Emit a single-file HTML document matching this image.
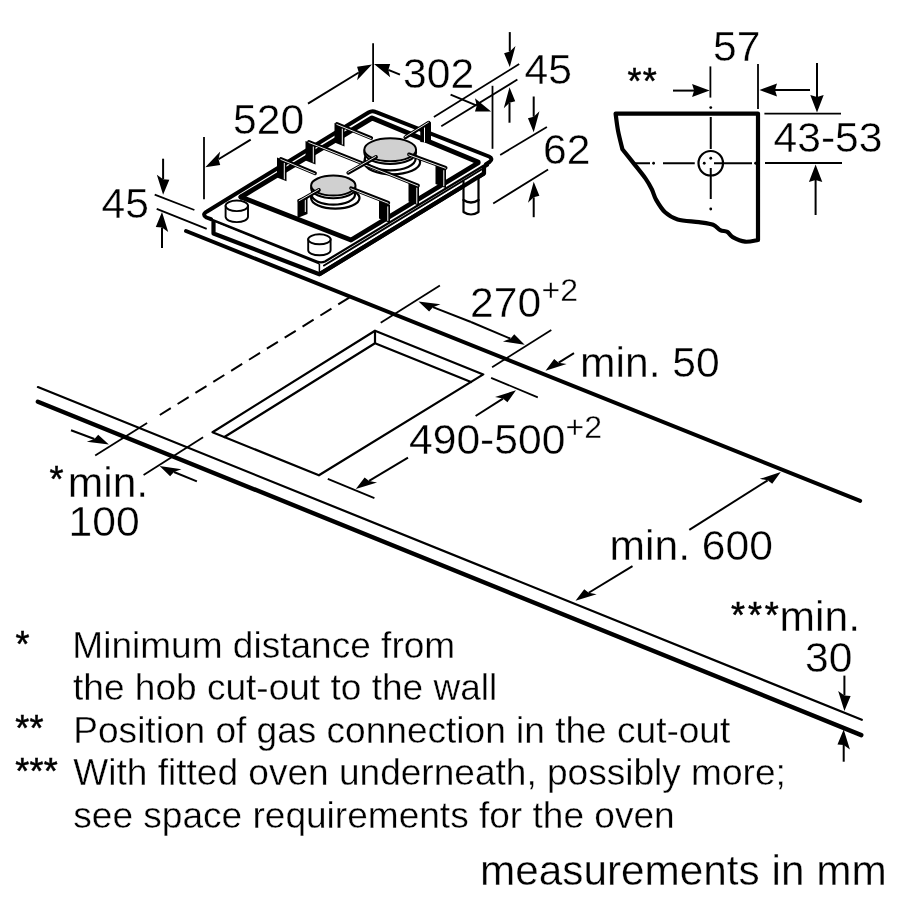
<!DOCTYPE html>
<html><head><meta charset="utf-8"><style>
html,body{margin:0;padding:0;background:#fff;width:900px;height:900px;overflow:hidden}
svg{display:block;will-change:transform}
text{font-family:"Liberation Sans",sans-serif;fill:#000;stroke:#fff;stroke-width:0.35px}
text.st{stroke:#000;stroke-width:0.5px}
</style></head><body>
<svg width="900" height="900" viewBox="0 0 900 900">
<line x1="37.9" y1="387.1" x2="861.8" y2="719.8" stroke="#000" stroke-width="2.2" stroke-linecap="round"/>
<line x1="37.9" y1="401.7" x2="861.3" y2="735.1" stroke="#000" stroke-width="4.4" stroke-linecap="round"/>
<line x1="186" y1="231" x2="860.2" y2="500.9" stroke="#000" stroke-width="3.9" stroke-linecap="round"/>
<line x1="349.3" y1="297.6" x2="159.8" y2="415" stroke="#000" stroke-width="2" stroke-dasharray="13,8"/>
<path d="M212.5,432.2 L375,330.7 L483.3,374.4 L318.9,475.3 Z" stroke="#000" stroke-width="2.2" fill="none" stroke-linejoin="round" stroke-linecap="round" />
<path d="M224.4,437 L375,343.3 L471,382" stroke="#000" stroke-width="2.2" fill="none" stroke-linejoin="round" stroke-linecap="round" />
<line x1="375" y1="330.7" x2="375" y2="343.3" stroke="#000" stroke-width="2.2" stroke-linecap="butt"/>
<line x1="95.2" y1="455.5" x2="147.1" y2="423.1" stroke="#000" stroke-width="1.8" stroke-linecap="butt"/>
<line x1="143.6" y1="475" x2="203.1" y2="437.3" stroke="#000" stroke-width="1.8" stroke-linecap="butt"/>
<line x1="71" y1="430.2" x2="94.39" y2="438.96" stroke="#000" stroke-width="2" stroke-linecap="butt"/>
<polygon points="108.9,444.4 98.2,434.71 94.39,438.96 86.83,441.81" fill="#000"/>
<line x1="196.9" y1="481.4" x2="173.94" y2="471.98" stroke="#000" stroke-width="2" stroke-linecap="butt"/>
<polygon points="159.6,466.1 181.45,469.16 173.94,471.98 170.13,476.33" fill="#000"/>
<line x1="380.7" y1="322.8" x2="439.9" y2="285.5" stroke="#000" stroke-width="1.8" stroke-linecap="butt"/>
<line x1="492.1" y1="367.3" x2="551.3" y2="330" stroke="#000" stroke-width="1.8" stroke-linecap="butt"/>
<line x1="471" y1="322" x2="432.94" y2="307.14" stroke="#000" stroke-width="2" stroke-linecap="butt"/>
<polygon points="418.5,301.5 440.47,304.29 432.94,307.14 429.13,311.44" fill="#000"/>
<line x1="471" y1="322" x2="510.42" y2="338.66" stroke="#000" stroke-width="2" stroke-linecap="butt"/>
<polygon points="524.7,344.7 514.25,334.31 510.42,338.66 502.91,341.46" fill="#000"/>
<line x1="574" y1="353.2" x2="558.69" y2="362.66" stroke="#000" stroke-width="2" stroke-linecap="butt"/>
<polygon points="545.5,370.8 566.61,364.09 558.69,362.66 554.17,359.12" fill="#000"/>
<line x1="491.1" y1="377.8" x2="537.8" y2="397.4" stroke="#000" stroke-width="1.8" stroke-linecap="butt"/>
<line x1="327.8" y1="478.9" x2="374.4" y2="498.2" stroke="#000" stroke-width="1.8" stroke-linecap="butt"/>
<line x1="475.6" y1="416" x2="502.94" y2="398.54" stroke="#000" stroke-width="2" stroke-linecap="butt"/>
<polygon points="516,390.2 507.45,402.16 502.94,398.54 495.05,397.08" fill="#000"/>
<line x1="408" y1="457.7" x2="369.1" y2="480.95" stroke="#000" stroke-width="2" stroke-linecap="butt"/>
<polygon points="355.8,488.9 377.02,482.46 369.1,480.95 364.62,477.38" fill="#000"/>
<line x1="689.3" y1="529.9" x2="767.7" y2="480.29" stroke="#000" stroke-width="2" stroke-linecap="butt"/>
<polygon points="780.8,472 772.23,483.85 767.7,480.29 759.79,478.87" fill="#000"/>
<line x1="632.5" y1="566.1" x2="588.74" y2="592.74" stroke="#000" stroke-width="2" stroke-linecap="butt"/>
<polygon points="575.5,600.8 596.67,594.19 588.74,592.74 584.23,589.21" fill="#000"/>
<line x1="844.4" y1="675.6" x2="844.4" y2="695.5" stroke="#000" stroke-width="2" stroke-linecap="butt"/>
<polygon points="844.4,711 850.62,695.99 844.4,695.5 838.18,691.01" fill="#000"/>
<line x1="843.7" y1="761.7" x2="843.7" y2="745" stroke="#000" stroke-width="2" stroke-linecap="butt"/>
<polygon points="843.7,729.5 849.92,749.49 843.7,745 837.48,744.51" fill="#000"/>
<line x1="154.7" y1="194.7" x2="194.4" y2="210" stroke="#000" stroke-width="1.8" stroke-linecap="butt"/>
<line x1="156.7" y1="208.9" x2="206.7" y2="228.9" stroke="#000" stroke-width="1.8" stroke-linecap="butt"/>
<line x1="163.1" y1="158.7" x2="163.1" y2="179.2" stroke="#000" stroke-width="2" stroke-linecap="butt"/>
<polygon points="163.1,194.7 169.34,179.63 163.1,179.2 156.86,174.77" fill="#000"/>
<line x1="162" y1="248" x2="162" y2="227.5" stroke="#000" stroke-width="2" stroke-linecap="butt"/>
<polygon points="162,212 168.22,231.99 162,227.5 155.78,227.01" fill="#000"/>
<line x1="204" y1="136.9" x2="204" y2="199.3" stroke="#000" stroke-width="1.8" stroke-linecap="butt"/>
<line x1="373.1" y1="43.3" x2="373.1" y2="102" stroke="#000" stroke-width="1.8" stroke-linecap="butt"/>
<line x1="250.7" y1="139.6" x2="218.53" y2="159.23" stroke="#000" stroke-width="2" stroke-linecap="butt"/>
<polygon points="205.3,167.3 220.24,164.89 218.53,159.23 220.24,151.49" fill="#000"/>
<line x1="308" y1="103.6" x2="358.78" y2="72.5" stroke="#000" stroke-width="2" stroke-linecap="butt"/>
<polygon points="372,64.4 357.08,80.24 358.78,72.5 357.08,66.84" fill="#000"/>
<line x1="400" y1="74.7" x2="388.33" y2="69.9" stroke="#000" stroke-width="2" stroke-linecap="butt"/>
<polygon points="374,64 390.18,77.36 388.33,69.9 390.18,63.96" fill="#000"/>
<line x1="492.5" y1="85.8" x2="492.5" y2="148.8" stroke="#000" stroke-width="1.8" stroke-linecap="butt"/>
<line x1="450.6" y1="94.7" x2="476.8" y2="105.63" stroke="#000" stroke-width="2" stroke-linecap="butt"/>
<polygon points="491.1,111.6 474.95,111.56 476.8,105.63 474.95,98.16" fill="#000"/>
<line x1="433.9" y1="116.9" x2="519.2" y2="64.1" stroke="#000" stroke-width="1.8" stroke-linecap="butt"/>
<line x1="441.3" y1="126.3" x2="517.4" y2="79.6" stroke="#000" stroke-width="1.8" stroke-linecap="butt"/>
<line x1="509.8" y1="32.1" x2="509.8" y2="51.6" stroke="#000" stroke-width="2" stroke-linecap="butt"/>
<polygon points="509.8,67.1 515.5,46.07 509.8,51.6 504.1,53.13" fill="#000"/>
<line x1="509.5" y1="122.7" x2="509.5" y2="102.7" stroke="#000" stroke-width="2" stroke-linecap="butt"/>
<polygon points="509.5,87.2 515.21,101.19 509.5,102.7 503.79,108.21" fill="#000"/>
<line x1="500.2" y1="155" x2="546.9" y2="126.9" stroke="#000" stroke-width="1.8" stroke-linecap="butt"/>
<line x1="493.2" y1="203.5" x2="548.1" y2="169.6" stroke="#000" stroke-width="1.8" stroke-linecap="butt"/>
<line x1="533.7" y1="96.5" x2="533.7" y2="116.8" stroke="#000" stroke-width="2" stroke-linecap="butt"/>
<polygon points="533.7,132.3 539.45,111.35 533.7,116.8 527.95,118.25" fill="#000"/>
<line x1="533.7" y1="217.2" x2="533.7" y2="197.3" stroke="#000" stroke-width="2" stroke-linecap="butt"/>
<polygon points="533.7,181.8 539.4,195.78 533.7,197.3 528,202.82" fill="#000"/>
<path d="M758,240 L758,113.6 L615.6,113.6 C616.00,116.43 616.87,124.67 618.00,130.60 C619.13,136.53 621.67,146.10 622.40,149.20 C624.18,151.43 629.23,157.70 633.10,162.60 C636.97,167.50 642.48,174.17 645.60,178.60 C648.72,183.03 650.03,185.65 651.80,189.20 C653.57,192.75 653.98,196.05 656.20,199.90 C658.42,203.75 661.53,209.05 665.10,212.30 C668.67,215.55 671.97,217.77 677.60,219.40 C683.23,221.03 692.98,221.20 698.90,222.10 C704.82,223.00 709.55,223.47 713.10,224.80 C716.65,226.13 717.83,228.92 720.20,230.10 C722.57,231.28 725.22,230.72 727.30,231.90 C729.38,233.08 729.73,235.57 732.70,237.20 C735.67,238.83 740.88,241.23 745.10,241.70 C749.32,242.17 755.85,240.28 758.00,240.00" stroke="#000" stroke-width="4.2" fill="none" stroke-linejoin="round" stroke-linecap="round" />
<circle cx="710.75" cy="163.25" r="12.25" stroke="#000" stroke-width="2.2" fill="none"/>
<line x1="635" y1="163.25" x2="650" y2="163.25" stroke="#000" stroke-width="2" stroke-linecap="butt"/>
<line x1="663" y1="163.25" x2="694.75" y2="163.25" stroke="#000" stroke-width="2" stroke-linecap="butt"/>
<line x1="714" y1="163.25" x2="752" y2="163.25" stroke="#000" stroke-width="2" stroke-linecap="butt"/>
<line x1="710.75" y1="117" x2="710.75" y2="149" stroke="#000" stroke-width="2" stroke-linecap="butt"/>
<line x1="710.75" y1="168" x2="710.75" y2="199" stroke="#000" stroke-width="2" stroke-linecap="butt"/>
<circle cx="653.6" cy="163.25" r="1.4" fill="#000"/>
<circle cx="704.25" cy="163.25" r="1.4" fill="#000"/>
<circle cx="710.75" cy="158.25" r="1.4" fill="#000"/>
<circle cx="710.75" cy="107.6" r="1.4" fill="#000"/>
<circle cx="710.75" cy="209" r="1.4" fill="#000"/>
<circle cx="755.6" cy="163.25" r="1.4" fill="#000"/>
<line x1="710.4" y1="66.4" x2="710.4" y2="97.6" stroke="#000" stroke-width="1.8" stroke-linecap="butt"/>
<line x1="758" y1="64" x2="758" y2="109" stroke="#000" stroke-width="1.8" stroke-linecap="butt"/>
<line x1="673" y1="90.6" x2="694.1" y2="90.6" stroke="#000" stroke-width="2" stroke-linecap="butt"/>
<polygon points="709.6,90.6 692.1,97.1 694.1,90.6 692.1,84.1" fill="#000"/>
<line x1="810" y1="90" x2="775" y2="90" stroke="#000" stroke-width="2" stroke-linecap="butt"/>
<polygon points="759.5,90 777,96.5 775,90 777,83.5" fill="#000"/>
<line x1="764.4" y1="113.6" x2="841" y2="113.6" stroke="#000" stroke-width="1.8" stroke-linecap="butt"/>
<line x1="765" y1="163" x2="842" y2="163" stroke="#000" stroke-width="1.8" stroke-linecap="butt"/>
<line x1="817" y1="63" x2="817" y2="97" stroke="#000" stroke-width="2" stroke-linecap="butt"/>
<polygon points="817,112.5 823.7,95 817,97 810.3,95" fill="#000"/>
<line x1="815.6" y1="215" x2="815.6" y2="180" stroke="#000" stroke-width="2" stroke-linecap="butt"/>
<polygon points="815.6,164.5 822.3,182 815.6,180 808.9,182" fill="#000"/>
<text x="72.3" y="658.2" font-size="37.05" >Minimum distance from</text>
<text x="73" y="700" font-size="37.05" >the hob cut-out to the wall</text>
<text x="73.3" y="743" font-size="37.05" >Position of gas connection in the cut-out</text>
<text x="73.3" y="784.6" font-size="37.05" >With fitted oven underneath, possibly more;</text>
<text x="73.3" y="828" font-size="37.05" >see space requirements for the oven</text>
<text x="15.6" y="656.5" font-size="36" class="st">*</text>
<text x="15.2" y="741.3" font-size="36" class="st" letter-spacing="0.3">**</text>
<text x="15.2" y="783.5" font-size="36" class="st" letter-spacing="0.3">***</text>
<text x="480" y="884.7" font-size="42.3" >measurements in mm</text>
<text x="609.5" y="560" font-size="42.6" >min. 600</text>
<text x="580" y="376.5" font-size="42.6" >min. 50</text>
<text x="409" y="453.5" font-size="42.6" >490-500</text>
<text x="470" y="317" font-size="42.6" >270</text>
<text x="773.5" y="152" font-size="42.6" >43-53</text>
<text x="713" y="61" font-size="42.6" >57</text>
<text x="403" y="88" font-size="42.6" >302</text>
<text x="233" y="133.5" font-size="42.6" >520</text>
<text x="101.5" y="217.5" font-size="42.6" >45</text>
<text x="524.5" y="83.5" font-size="42.6" >45</text>
<text x="543" y="163.5" font-size="42.6" >62</text>
<text x="67.7" y="497" font-size="42.6" >min.</text>
<text x="68.5" y="536.3" font-size="42.6" >100</text>
<text x="731" y="628.2" font-size="36" class="st" letter-spacing="2.9">***</text>
<text x="779.5" y="631.3" font-size="42.6" >min.</text>
<text x="805" y="672" font-size="42.6" >30</text>
<text x="541.5" y="301" font-size="32" >+2</text>
<text x="565.5" y="438" font-size="32" >+2</text>
<text x="49.5" y="491.7" font-size="36" class="st">*</text>
<text x="627.5" y="93.7" font-size="36" class="st" letter-spacing="1.3">**</text>
<path d="M213.5,221 L213.5,233.5 L319.4,274.3 L484,173.5 L484,166" stroke="#000" stroke-width="4.2" fill="none" stroke-linejoin="round" stroke-linecap="round" stroke-linejoin="miter"/>
<line x1="319.4" y1="264" x2="319.4" y2="274.3" stroke="#000" stroke-width="1.5" stroke-linecap="butt"/>
<line x1="206.7" y1="217.9" x2="319.4" y2="263.6" stroke="#000" stroke-width="2" stroke-linecap="butt"/>
<path d="M324,265.5 L488,165.5" stroke="#000" stroke-width="2" fill="none" stroke-linejoin="round" stroke-linecap="round" />
<path d="M463.5,181 L463.5,212 Q471,217 478.5,212 L478.5,178" stroke="#000" stroke-width="2.2" fill="#fff" stroke-linejoin="round" stroke-linecap="round" />
<path d="M463.5,200 Q471,205 478.5,200" stroke="#000" stroke-width="2.4" fill="none" stroke-linejoin="round" stroke-linecap="round" />
<line x1="319.4" y1="274.3" x2="484" y2="173.5" stroke="#000" stroke-width="4.2" stroke-linecap="butt"/>
<path d="M207,211.5 L368.5,112.5 Q372,110.3 375.5,111.8 L489,156.5 Q493.5,158.8 489.5,162 L325,261.5 Q321,263.3 317,261.5 L206.5,217.5 Q201.5,214.5 207,211.5 Z" fill="#fff"/>
<path d="M211,219.2 L206.5,217.5 Q201.5,214.5 207,211.5 L368.5,112.5 Q372,110.3 375.5,111.8 L489,156.5 Q493.5,158.8 489.5,162 L486,164.2" stroke="#000" stroke-width="4.0" fill="none" stroke-linejoin="round" stroke-linecap="round" />
<path d="M486,164.2 L325,261.5 Q321,263.3 317,261.5 L211,219.2" stroke="#000" stroke-width="2.2" fill="none" stroke-linejoin="round" stroke-linecap="round" />
<path d="M241,197 L372,118 L478,162" stroke="#000" stroke-width="5" fill="none" stroke-linejoin="round" stroke-linecap="round" stroke-linejoin="miter"/>
<path d="M241,197 L351,240 L478,163" stroke="#000" stroke-width="4.8" fill="none" stroke-linejoin="round" stroke-linecap="round" />
<path d="M225.60000000000002,205.8 L225.60000000000002,216.8 A11.2,5.3 0 0 0 248.0,216.8 L248.0,205.8" stroke="#000" stroke-width="1.9" fill="#fff" stroke-linejoin="round" stroke-linecap="round" />
<ellipse cx="236.8" cy="205.8" rx="11.2" ry="5.3" stroke="#000" stroke-width="1.9" fill="#fff"/>
<path d="M308.2,239.3 L308.2,250.3 A11.2,5 0 0 0 330.59999999999997,250.3 L330.59999999999997,239.3" stroke="#000" stroke-width="1.9" fill="#fff" stroke-linejoin="round" stroke-linecap="round" />
<ellipse cx="319.4" cy="239.3" rx="11.2" ry="5" stroke="#000" stroke-width="1.9" fill="#fff"/>
<ellipse cx="335.3" cy="198.1" rx="24.2" ry="10.5" stroke="#000" stroke-width="2.2" fill="#fff"/>
<ellipse cx="333.3" cy="194.6" rx="21.7" ry="10" stroke="#000" stroke-width="2.2" fill="#fff"/>
<ellipse cx="333.3" cy="188.2" rx="22.2" ry="10" stroke="#000" stroke-width="2" fill="#fff"/>
<ellipse cx="333.3" cy="185.6" rx="22.2" ry="10" stroke="#000" stroke-width="2" fill="#d0d0d0"/>
<ellipse cx="392.2" cy="162.3" rx="27.9" ry="12.0" stroke="#000" stroke-width="2.2" fill="#fff"/>
<ellipse cx="390.2" cy="158.8" rx="25.4" ry="11.5" stroke="#000" stroke-width="2.2" fill="#fff"/>
<ellipse cx="390.2" cy="152.4" rx="25.9" ry="11.5" stroke="#000" stroke-width="2" fill="#fff"/>
<ellipse cx="390.2" cy="149.8" rx="25.9" ry="11.5" stroke="#000" stroke-width="2" fill="#d0d0d0"/>
<polygon points="277,157.5 286.5,161.3 286.5,181.3 277,177.5" fill="#000"/>
<line x1="284.3" y1="162.8" x2="284.3" y2="179.3" stroke="#fff" stroke-width="1" stroke-linecap="butt"/>
<polygon points="305.5,141 315.5,145 315.5,164.5 305.5,160.5" fill="#000"/>
<line x1="313.3" y1="146.5" x2="313.3" y2="162.5" stroke="#fff" stroke-width="1" stroke-linecap="butt"/>
<polygon points="334.5,123 344.5,127 344.5,146.5 334.5,142.5" fill="#000"/>
<line x1="342.3" y1="128.5" x2="342.3" y2="144.5" stroke="#fff" stroke-width="1" stroke-linecap="butt"/>
<polygon points="420.3,127.5 429.5,121.5 431,122.5 431,143 420.3,142" fill="#000"/>
<line x1="424.5" y1="126" x2="424.5" y2="142.5" stroke="#fff" stroke-width="1" stroke-linecap="butt"/>
<polygon points="435.5,164.5 446,168.7 446,188.2 435.5,184" fill="#000"/>
<line x1="443.8" y1="170.2" x2="443.8" y2="186.2" stroke="#fff" stroke-width="1" stroke-linecap="butt"/>
<polygon points="408.5,182 419,186.2 419,205.7 408.5,201.5" fill="#000"/>
<line x1="416.8" y1="187.7" x2="416.8" y2="203.7" stroke="#fff" stroke-width="1" stroke-linecap="butt"/>
<polygon points="379,200.5 390,204.9 390,222.9 379,218.5" fill="#000"/>
<line x1="387.8" y1="206.4" x2="387.8" y2="220.9" stroke="#fff" stroke-width="1" stroke-linecap="butt"/>
<polygon points="297.5,199.5 307.5,195.5 307.5,214 297.5,218" fill="#000"/>
<line x1="305.3" y1="197" x2="305.3" y2="212" stroke="#fff" stroke-width="1" stroke-linecap="butt"/>
<line x1="281" y1="159" x2="315" y2="173.3" stroke="#000" stroke-width="3.8" stroke-linecap="round"/>
<line x1="280.81" y1="159.46" x2="314.81" y2="173.76" stroke="#fff" stroke-width="0.9" stroke-linecap="round"/>
<line x1="309" y1="142" x2="418" y2="185.5" stroke="#000" stroke-width="3.8" stroke-linecap="round"/>
<line x1="308.81" y1="142.46" x2="417.81" y2="185.96" stroke="#fff" stroke-width="0.9" stroke-linecap="round"/>
<line x1="337" y1="124" x2="371.2" y2="138.1" stroke="#000" stroke-width="3.8" stroke-linecap="round"/>
<line x1="336.81" y1="124.46" x2="371.01" y2="138.56" stroke="#fff" stroke-width="0.9" stroke-linecap="round"/>
<line x1="376" y1="157" x2="348.3" y2="172.8" stroke="#000" stroke-width="3.8" stroke-linecap="round"/>
<line x1="375.75" y1="156.57" x2="348.05" y2="172.37" stroke="#fff" stroke-width="0.9" stroke-linecap="round"/>
<line x1="428.7" y1="122.7" x2="405.3" y2="137.3" stroke="#000" stroke-width="3.8" stroke-linecap="round"/>
<line x1="428.44" y1="122.28" x2="405.04" y2="136.88" stroke="#fff" stroke-width="0.9" stroke-linecap="round"/>
<line x1="409" y1="154.4" x2="445.6" y2="167.8" stroke="#000" stroke-width="3.8" stroke-linecap="round"/>
<line x1="408.83" y1="154.87" x2="445.43" y2="168.27" stroke="#fff" stroke-width="0.9" stroke-linecap="round"/>
<line x1="318.9" y1="190" x2="299.4" y2="201.1" stroke="#000" stroke-width="3.8" stroke-linecap="round"/>
<line x1="318.65" y1="189.57" x2="299.15" y2="200.67" stroke="#fff" stroke-width="0.9" stroke-linecap="round"/>
<line x1="351.1" y1="188.3" x2="388.3" y2="202.8" stroke="#000" stroke-width="3.8" stroke-linecap="round"/>
<line x1="350.92" y1="188.77" x2="388.12" y2="203.27" stroke="#fff" stroke-width="0.9" stroke-linecap="round"/>
</svg>
</body></html>
